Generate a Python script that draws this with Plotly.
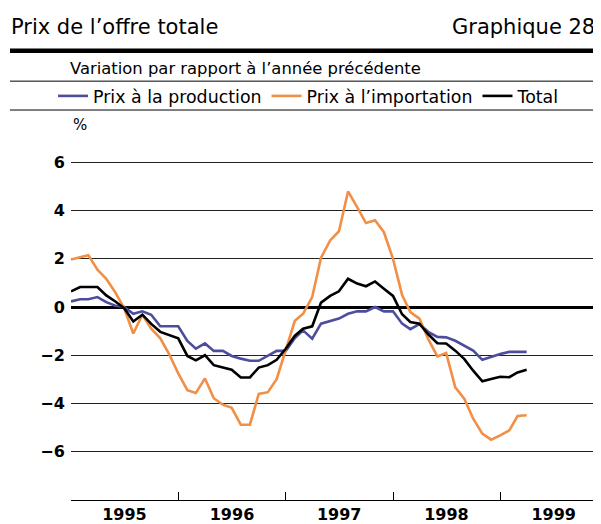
import plotly.graph_objects as go
import pandas as pd

# ---- data (monthly, Jan 1995 - Apr 1999) ----
months = pd.date_range("1995-01-01", "1999-04-01", freq="MS")

prix_production = [0.23, 0.32, 0.32, 0.41, 0.20, 0.05, 0.00, -0.28, -0.18, -0.32, -0.80, -0.80,
                   -0.80, -1.41, -1.73, -1.51, -1.82, -1.82, -2.03, -2.14, -2.23, -2.23, -2.03, -1.82,
                   -1.82, -1.29, -0.97, -1.31, -0.69, -0.59, -0.48, -0.28, -0.18, -0.18, 0.00, -0.18,
                   -0.18, -0.69, -0.92, -0.71, -1.03, -1.24, -1.26, -1.40, -1.61, -1.81, -2.19, -2.06,
                   -1.95, -1.86, -1.86, -1.86]
prix_importation = [1.97, 2.05, 2.15, 1.55, 1.17, 0.60, -0.05, -1.10, -0.32, -0.90, -1.30, -1.95,
                    -2.75, -3.45, -3.56, -2.96, -3.78, -4.05, -4.18, -4.88, -4.88, -3.60, -3.53, -2.99,
                    -1.82, -0.57, -0.28, 0.41, 2.04, 2.76, 3.14, 4.79, 4.14, 3.48, 3.60, 3.10,
                    2.00, 0.50, -0.21, -0.48, -1.33, -2.05, -1.91, -3.33, -3.81, -4.63, -5.25, -5.50,
                    -5.32, -5.11, -4.52, -4.49]
total = [0.65, 0.83, 0.83, 0.83, 0.48, 0.23, -0.05, -0.60, -0.32, -0.70, -1.03, -1.17,
         -1.30, -2.03, -2.21, -2.00, -2.41, -2.51, -2.60, -2.92, -2.92, -2.51, -2.41, -2.19,
         -1.73, -1.19, -0.90, -0.80, 0.18, 0.46, 0.65, 1.17, 0.97, 0.86, 1.06, 0.76,
         0.46, -0.30, -0.62, -0.69, -1.13, -1.50, -1.51, -1.81, -2.16, -2.64, -3.08, -2.98,
         -2.89, -2.91, -2.71, -2.60]

series_names = ["Prix à la production", "Prix à l\u2019importation", "Total"]
series_colors = ["#4d4d9e", "#f28f47", "#000000"]

year_labels = ["1995", "1996", "1997", "1998", "1999"]
year_label_pos = ["1995-07-02", "1996-07-02", "1997-07-02", "1998-07-02", "1999-07-02"]
year_ticks = ["1996-01-01", "1997-01-01", "1998-01-01", "1999-01-01"]
y_ticks = [-6, -4, -2, 0, 2, 4, 6]
y_ticktext = ["\u22126", "\u22124", "\u22122", "0", "2", "4", "6"]

title_text = "Prix de l\u2019offre totale"
chart_no = "Graphique 28"
subtitle = "Variation par rapport à l\u2019année précédente"
unit = "%"

FONT = "DejaVu Sans"

fig = go.Figure()
for name, vals, col in zip(series_names, [prix_production, prix_importation, total], series_colors):
    fig.add_trace(go.Scatter(x=months, y=vals, mode="lines", name=name,
                             line=dict(color=col, width=2.6)))

fig.update_layout(
    width=593, height=516,
    margin=dict(l=63, r=0, t=106, b=22),
    paper_bgcolor="white", plot_bgcolor="white",
    font=dict(family=FONT, color="black", size=16),
    showlegend=True,
    legend=dict(orientation="h", x=-0.034, xanchor="left", y=1.0464, yanchor="middle",
                font=dict(family=FONT, size=17.4), bgcolor="rgba(0,0,0,0)",
                itemwidth=30, borderwidth=0),
    xaxis=dict(type="date", range=["1995-01-01", "1999-12-10"],
               showline=True, linecolor="black", linewidth=1.3,
               tickmode="array", tickvals=year_label_pos, ticktext=year_labels,
               ticks="", showgrid=False, zeroline=False,
               tickfont=dict(family=FONT, size=16, color="black", weight="bold"),
               minor=dict(tickmode="array", tickvals=year_ticks, ticks="inside",
                          ticklen=8, tickwidth=1, tickcolor="black", showgrid=False)),
    yaxis=dict(range=[-8, 8], tickmode="array", tickvals=y_ticks, ticktext=y_ticktext,
               showgrid=True, gridcolor="#222222", gridwidth=1,
               zeroline=True, zerolinecolor="black", zerolinewidth=2.5,
               showline=False, ticks="outside", ticklen=2, tickcolor="rgba(0,0,0,0)",
               tickfont=dict(family=FONT, size=16, color="black", weight="bold")),
)

# header decoration
fig.add_shape(type="line", xref="paper", yref="paper", x0=-0.1151, x1=0.9925, y0=1.1637, y1=1.1637,
              line=dict(color="black", width=4.5))
fig.add_shape(type="line", xref="paper", yref="paper", x0=-0.1151, x1=0.9925, y0=1.0851, y1=1.0851,
              line=dict(color="black", width=1))
fig.add_shape(type="line", xref="paper", yref="paper", x0=-0.1151, x1=0.9925, y0=1.0103, y1=1.0103,
              line=dict(color="black", width=1))

fig.add_annotation(text=title_text, xref="paper", yref="paper", x=-0.117, y=1.2242,
                   xanchor="left", yanchor="middle", showarrow=False,
                   font=dict(family=FONT, size=21, color="black"))
fig.add_annotation(text=chart_no, xref="paper", yref="paper", x=0.9925, y=1.2242,
                   xanchor="right", yanchor="middle", showarrow=False,
                   font=dict(family=FONT, size=21, color="black"))
fig.add_annotation(text=subtitle, xref="paper", yref="paper", x=-0.0057, y=1.1173,
                   xanchor="left", yanchor="middle", showarrow=False,
                   font=dict(family=FONT, size=16.4, color="black"))
fig.add_annotation(text=unit, xref="paper", yref="paper", x=0.0, y=0.9716,
                   xanchor="left", yanchor="middle", showarrow=False,
                   font=dict(family=FONT, size=15, color="black"))

fig.write_html("out.html")
